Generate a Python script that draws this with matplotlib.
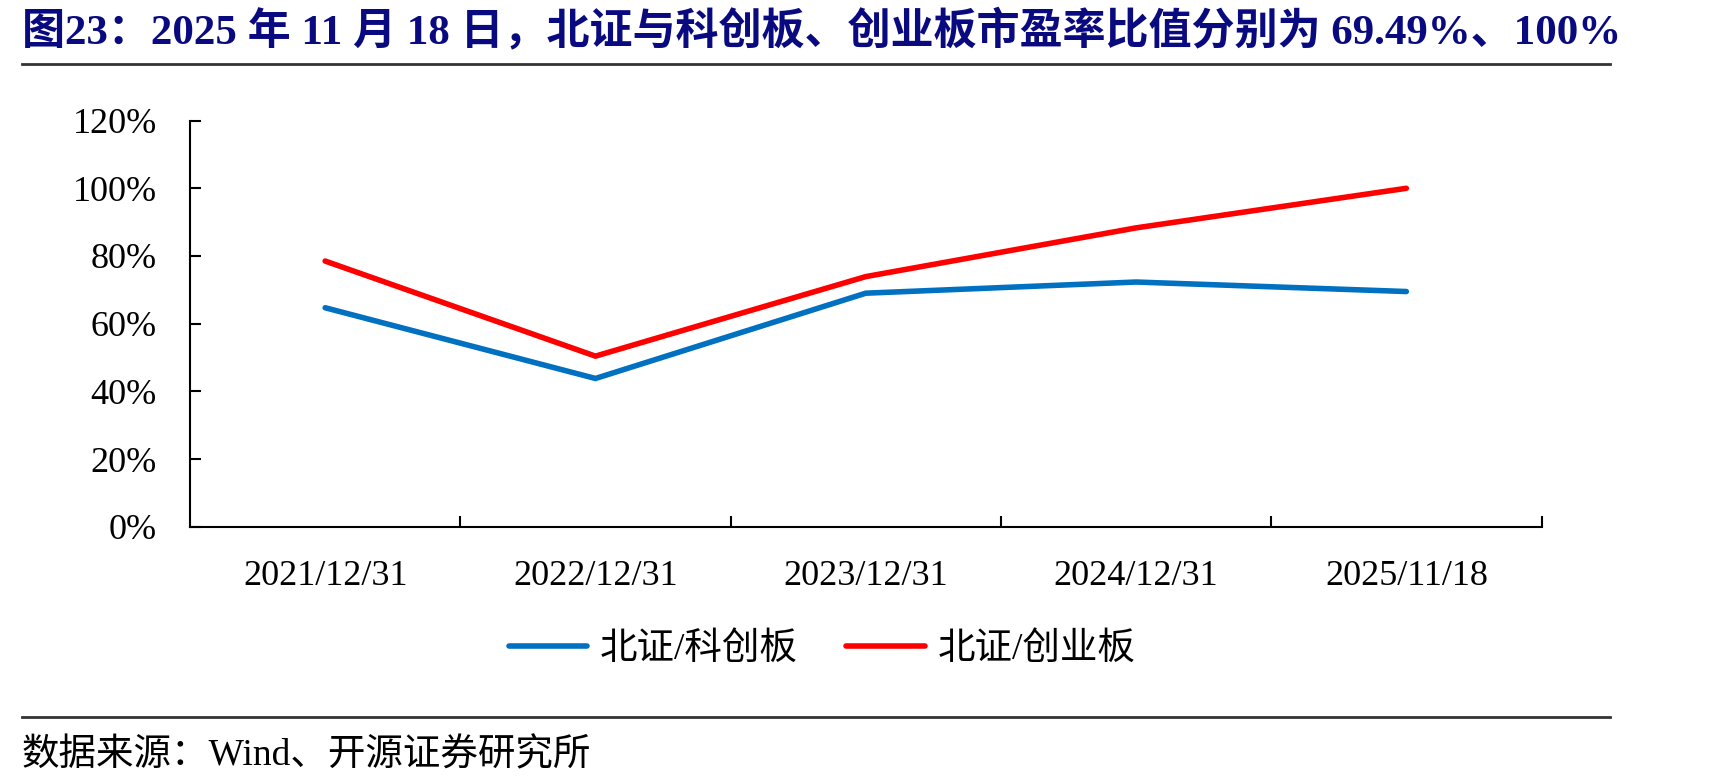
import matplotlib
matplotlib.use("Agg")
import matplotlib.pyplot as plt
from matplotlib.lines import Line2D

categories = ["2021/12/31", "2022/12/31", "2023/12/31", "2024/12/31", "2025/11/18"]
kcb_ratio = [64.7, 43.8, 69.0, 72.3, 69.49]     # 北证/科创板 (%)
cyb_ratio = [78.5, 50.4, 73.9, 88.3, 100.0]     # 北证/创业板 (%)
y_ticks = [0, 20, 40, 60, 80, 100, 120]
series_names = ["北证/科创板", "北证/创业板"]
title = "图23：2025 年 11 月 18 日，北证与科创板、创业板市盈率比值分别为 69.49%、100%"
source = "数据来源：Wind、开源证券研究所"

FONTS = ["Liberation Serif", "Noto Sans CJK SC"]
plt.rcParams["font.family"] = FONTS

W, H = 1735, 784
fig = plt.figure(figsize=(W / 100, H / 100), dpi=100)
ax = fig.add_axes([190 / W, 1 - 526.7 / H, (1541.5 - 190) / W, (526.7 - 120.6) / H])

x = list(range(len(categories)))
ax.plot(x, kcb_ratio, color="#0070C0", lw=4, solid_capstyle="round", solid_joinstyle="miter", label=series_names[0])
ax.plot(x, cyb_ratio, color="#FF0000", lw=4, solid_capstyle="round", solid_joinstyle="miter", label=series_names[1])

ax.set_xlim(-0.5, len(categories) - 0.5)
ax.set_ylim(0, 120)
ax.set_yticks(y_ticks)
ax.set_yticklabels([f"{v}%" for v in y_ticks])
ax.set_xticks(x)
ax.set_xticklabels(categories)
ax.set_xticks([i + 0.5 for i in x], minor=True)

for s in ["top", "right"]:
    ax.spines[s].set_visible(False)
for s in ["left", "bottom"]:
    ax.spines[s].set_linewidth(1.5)
    ax.spines[s].set_color("black")

ax.tick_params(axis="y", direction="in", length=8, width=1.5, pad=24, labelsize=26)
ax.tick_params(axis="x", which="major", length=0, pad=24, labelsize=26)
ax.tick_params(axis="x", which="minor", direction="in", length=8, width=1.5)

leg = ax.legend(loc="center", bbox_to_anchor=(822 / W, 1 - 650 / H), bbox_transform=fig.transFigure,
                ncol=2, frameon=False, fontsize=27, handlelength=2.1, handletextpad=0.33,
                columnspacing=1.3)

fig.text(22 / W, 1 - 31 / H, title, fontsize=31, fontweight="bold", color="#0A0A80",
         va="center", ha="left")
fig.add_artist(Line2D([22 / W, 1610 / W], [1 - 64 / H, 1 - 64 / H], color="#333333", lw=2,
                      transform=fig.transFigure))
fig.add_artist(Line2D([22 / W, 1610 / W], [1 - 717 / H, 1 - 717 / H], color="#333333", lw=2,
                      transform=fig.transFigure))
fig.text(22 / W, 1 - 756 / H, source, fontsize=27, va="center", ha="left", color="black")

fig.savefig("out.png", dpi=100)
